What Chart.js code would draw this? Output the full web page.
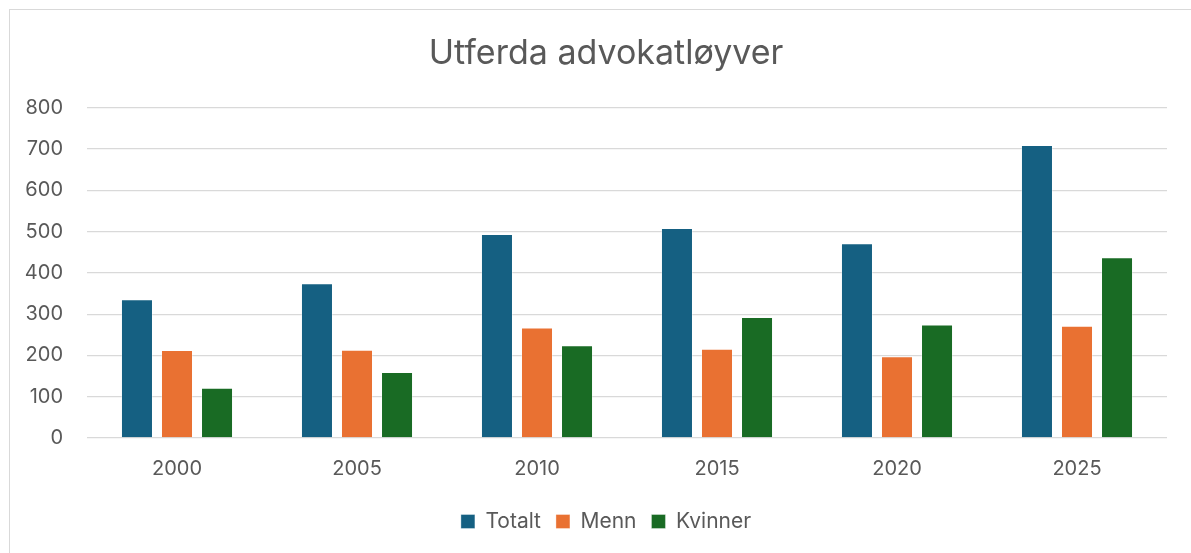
<!DOCTYPE html>
<html>
<head>
<meta charset="utf-8">
<script src="https://cdn.jsdelivr.net/npm/chart.js@4.4.1/dist/chart.umd.min.js"></script>
<style>
  html, body { margin: 0; padding: 0; background: #fff; }
  #wrap { position: relative; width: 1191px; height: 553px; overflow: hidden; }
  #frame { position: absolute; left: 9px; top: 9px; width: 1300px; height: 700px;
           border-left: 1.5px solid #d9d9d9; border-top: 1.5px solid #d9d9d9; }
  canvas { position: absolute; left: 0; top: 0; }
</style>
</head>
<body>
<div id="wrap">
  <div id="frame"></div>
  <canvas id="chart" width="1191" height="553"></canvas>
</div>
<script>
const years = ['2000', '2005', '2010', '2015', '2020', '2025'];
const totalt = [336, 375, 494, 509, 472, 710];
const menn = [213, 214, 268, 216, 198, 272];
const kvinner = [122, 160, 225, 293, 275, 438];
const yTicks = [0, 100, 200, 300, 400, 500, 600, 700, 800];

const textColor = '#595959';
const fontFam = 'Inter, "Open Sans", "Noto Sans", sans-serif';

function barSet(label, data, color) {
    return {
        label: label, data: data, backgroundColor: color,
        borderColor: 'rgba(255,255,255,0.35)', borderWidth: 1,
        categoryPercentage: 0.667, barPercentage: 0.8
    };
}

// title and legend sit a bit right of the canvas centre in the original
const shiftBoxes = {
    id: 'shiftBoxes',
    afterLayout(c) {
        [c.titleBlock, c.legend].forEach(b => { if (b) b.left += 45; });
    }
};

new Chart(document.getElementById('chart').getContext('2d'), {
    type: 'bar',
    data: {
        labels: years,
        datasets: [
            barSet('Totalt', totalt, '#156082'),
            barSet('Menn', menn, '#e97132'),
            barSet('Kvinner', kvinner, '#196b24')
        ]
    },
    options: {
        responsive: false, animation: false,
        layout: { padding: { top: 33, right: 24, left: 0, bottom: 11 } },
        scales: {
            x: {
                grid: { display: false },
                border: { display: false },
                ticks: { color: textColor, font: { family: fontFam, size: 20 }, padding: 11 },
                afterFit: s => { s.height = 58; }
            },
            y: {
                min: 0, max: 800,
                afterBuildTicks: s => { s.ticks = yTicks.map(v => ({ value: v })); },
                grid: { color: '#d9d9d9', lineWidth: 1.3, drawTicks: false },
                border: { display: false },
                ticks: { color: textColor, font: { family: fontFam, size: 20 }, padding: 24 },
                afterFit: s => { s.width = 87; }
            }
        },
        plugins: {
            title: {
                display: true, text: 'Utferda advokatløyver', color: textColor,
                font: { family: fontFam, size: 34, weight: 'normal' },
                padding: { top: 0, bottom: 34 }
            },
            legend: {
                position: 'bottom',
                labels: {
                    color: textColor, boxWidth: 14, boxHeight: 14, padding: 15,
                    font: { family: fontFam, size: 21 }
                }
            },
            tooltip: { enabled: false }
        }
    },
    plugins: [shiftBoxes]
});
</script>
</body>
</html>
